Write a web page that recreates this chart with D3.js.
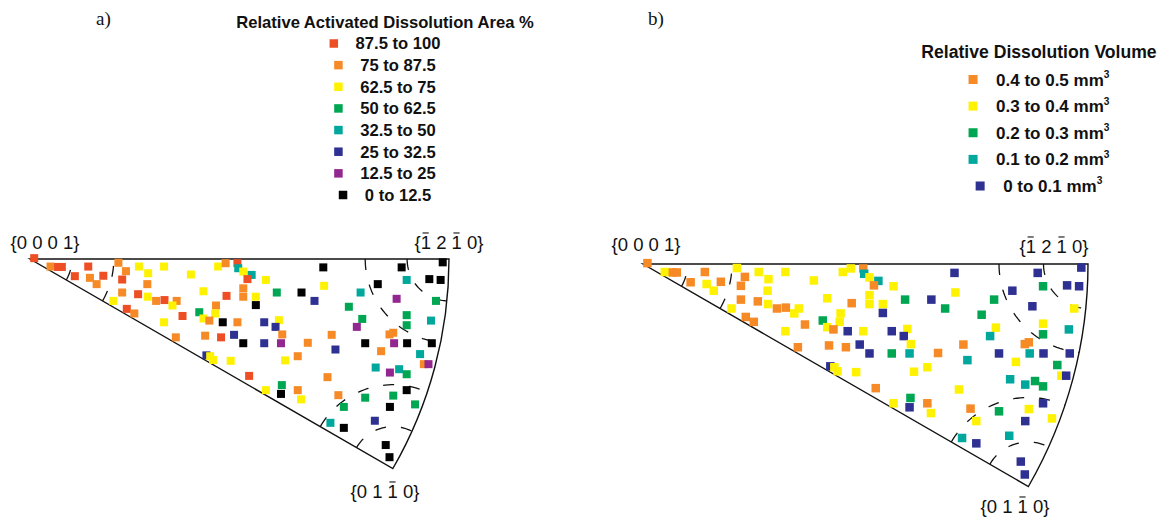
<!DOCTYPE html>
<html>
<head>
<meta charset="utf-8">
<script src="https://cdn.jsdelivr.net/npm/d3@7"></script>
<style>
  html, body { margin: 0; padding: 0; background: #ffffff; }
  svg { display: block; }
</style>
</head>
<body>
<script>
// Grain orientations in the {0001}-{01-10}-{-12-10} stereographic triangle,
// given as projected coordinates on the unit circle ({0001} at the origin,
// x toward {-12-10}, y toward {01-10}).
const grainX = [
  0.010, 0.049, 0.067, 0.076, 0.139, 0.211, 0.260, 0.320, 0.449, 0.467,
  0.107, 0.143, 0.175, 0.229, 0.282, 0.384, 0.159, 0.220, 0.280, 0.414,
  0.469, 0.220, 0.258, 0.281, 0.301, 0.321, 0.350, 0.340, 0.444, 0.199,
  0.442, 0.404, 0.414, 0.428, 0.460, 0.231, 0.249, 0.364, 0.320, 0.348,
  0.418, 0.456, 0.421, 0.430, 0.437, 0.479, 0.495, 0.497, 0.509, 0.529,
  0.519, 0.563, 0.700, 0.887, 0.985, 0.953, 0.980, 0.830, 0.899, 0.702,
  0.509, 0.509, 0.539, 0.539, 0.589, 0.648, 0.679, 0.789, 0.875, 0.969,
  0.761, 0.793, 0.899, 0.899, 0.957, 0.780, 0.495, 0.559, 0.594, 0.586,
  0.602, 0.487, 0.509, 0.559, 0.599, 0.663, 0.720, 0.858, 0.867, 0.869,
  0.900, 0.959, 0.800, 0.729, 0.838, 0.931, 0.940, 0.951, 0.609, 0.639,
  0.825, 0.881, 0.859, 0.899, 0.523, 0.710, 0.601, 0.599, 0.563, 0.639,
  0.647, 0.736, 0.800, 0.867, 0.899, 0.749, 0.859, 0.919, 0.823, 0.717,
  0.749, 0.849, 0.858
];
const grainY = [
  -0.002, 0.018, 0.019, 0.019, 0.018, 0.009, 0.018, 0.018, 0.018, 0.010,
  0.041, 0.045, 0.040, 0.029, 0.034, 0.037, 0.060, 0.049, 0.060, 0.077,
  0.088, 0.080, 0.084, 0.090, 0.100, 0.098, 0.100, 0.111, 0.111, 0.100,
  0.130, 0.127, 0.142, 0.147, 0.151, 0.119, 0.130, 0.136, 0.151, 0.187,
  0.183, 0.187, 0.230, 0.232, 0.241, 0.243, 0.010, 0.022, 0.030, 0.038,
  0.048, 0.050, 0.020, 0.020, 0.008, 0.048, 0.050, 0.060, 0.050, 0.064,
  0.070, 0.090, 0.090, 0.110, 0.080, 0.080, 0.100, 0.080, 0.095, 0.100,
  0.114, 0.143, 0.134, 0.158, 0.147, 0.162, 0.151, 0.151, 0.146, 0.162,
  0.180, 0.181, 0.201, 0.201, 0.201, 0.200, 0.181, 0.180, 0.176, 0.201,
  0.201, 0.201, 0.201, 0.216, 0.220, 0.227, 0.251, 0.251, 0.242, 0.232,
  0.259, 0.263, 0.271, 0.275, 0.279, 0.282, 0.301, 0.322, 0.313, 0.313,
  0.335, 0.325, 0.331, 0.326, 0.313, 0.353, 0.353, 0.347, 0.386, 0.391,
  0.403, 0.444, 0.473
];

// Relative activated dissolution area, class of each grain (index into areaLabels)
const areaLabels = ["87.5 to 100", "75 to 87.5", "62.5 to 75", "50 to 62.5",
                    "32.5 to 50", "25 to 32.5", "12.5 to 25", "0 to 12.5"];
const areaClass = [
  0, 1, 0, 0, 0, 1, 2, 2, 2, 1,
  0, 1, 0, 1, 2, 2, 1, 0, 1, 2,
  0, 1, 0, 2, 1, 0, 1, 2, 1, 2,
  2, 3, 2, 1, 7, 0, 1, 0, 2, 1,
  1, 0, 5, 2, 2, 2, 0, 4, 2, 4,
  0, 2, 7, 7, 7, 7, 7, 7, 4, 2,
  1, 1, 2, 7, 3, 7, 5, 4, 6, 3,
  3, 3, 3, 3, 4, 6, 1, 5, 2, 5,
  1, 5, 7, 5, 6, 1, 1, 1, 1, 6,
  7, 7, 7, 5, 1, 4, 1, 6, 2, 1,
  4, 4, 6, 3, 0, 1, 3, 7, 2, 1,
  2, 1, 3, 3, 7, 3, 7, 3, 5, 4,
  7, 7, 7
];

// Relative dissolution volume, class of each grain (index into volumeLabels)
const volumeLabels = ["0.4 to 0.5", "0.3 to 0.4", "0.2 to 0.3", "0.1 to 0.2", "0 to 0.1"];
const volumeClass = [
  0, 1, 0, 0, 0, 1, 1, 1, 1, 1,
  0, 1, 0, 0, 1, 1, 1, 0, 1, 1,
  0, 0, 0, 1, 0, 0, 1, 1, 1, 1,
  1, 2, 1, 0, 4, 0, 0, 0, 1, 0,
  0, 0, 4, 1, 1, 1, 0, 3, 1, 3,
  0, 1, 4, 4, 4, 4, 4, 4, 2, 1,
  1, 1, 1, 4, 2, 4, 2, 2, 4, 1,
  2, 1, 1, 2, 3, 3, 1, 4, 1, 4,
  1, 4, 4, 2, 3, 0, 0, 0, 0, 3,
  4, 4, 4, 3, 1, 2, 1, 4, 1, 1,
  3, 2, 3, 2, 0, 1, 2, 4, 1, 0,
  1, 0, 2, 1, 4, 1, 4, 1, 3, 3,
  4, 4, 4
];

const areaColors = ["#ee4e24", "#f68a26", "#fff200", "#00a651", "#00a79d", "#2e3192", "#92278f", "#000000"];
const volumeColors = ["#f68a26", "#fff200", "#00a651", "#00a79d", "#2e3192"];

// Pole labels of the triangle corners; "-" marks an overbarred index
const poleLabels = ["{0 0 0 1}", "{-1 2 -1 0}", "{0 1 -1 0}"];

const W = 1159, H = 518;
const svg = d3.select("body").append("svg").attr("width", W).attr("height", H);

const SANS = "'Liberation Sans', Arial, sans-serif";
const SERIF = "'Liberation Serif', 'Times New Roman', serif";

const grains = grainX.map((x, i) => ({ x, y: grainY[i], area: areaClass[i], volume: volumeClass[i] }));

function drawPoleLabel(g, label, cx, baseline, size) {
  // split label into characters, remembering which digits carry a bar
  const chars = [], barred = [];
  for (let i = 0; i < label.length; i++) {
    if (label[i] === "-") { barred.push(chars.length); continue; }
    chars.push(label[i]);
  }
  const t = g.append("text")
    .attr("x", cx).attr("y", baseline)
    .attr("text-anchor", "middle")
    .style("font-family", SANS).style("font-size", size + "px")
    .attr("fill", "#111")
    .text(chars.join(""));
  const node = t.node();
  barred.forEach(idx => {
    const e = node.getExtentOfChar(idx);
    const y = baseline - size * 0.716 - size * 0.15;
    g.append("line")
      .attr("x1", e.x + e.width * 0.18).attr("x2", e.x + e.width * 0.78)
      .attr("y1", y).attr("y2", y)
      .attr("stroke", "#111").attr("stroke-width", 1.1);
  });
}

function drawPanel(opts) {
  const { x, y, data, key, colors, size, labels } = opts;
  const g = svg.append("g");
  const R = x(1) - x(0);
  const P0 = [x(0), y(0)], P1 = [x(1), y(0)];
  const a30 = Math.PI / 6;
  const P2 = [x(Math.cos(a30)), y(Math.sin(a30))];

  // guide circles around each corner, clipped at the triangle edges
  const line = d3.line();
  const arcPts = (cu, cv, r, t0, t1) => d3.range(0, 41).map(k => {
    const t = (t0 + (t1 - t0) * k / 40) * Math.PI / 180;
    return [x(cu + r * Math.cos(t)), y(cv + r * Math.sin(t))];
  });
  const guides = [];
  [0.1, 0.2].forEach(r => {
    const phi = 2 * Math.asin(r / 2);
    guides.push(arcPts(0, 0, r, 30, 0));
    const e1 = Math.atan2(Math.sin(phi), Math.cos(phi) - 1) * 180 / Math.PI;
    guides.push(arcPts(1, 0, r, 180, e1));
    const q = [Math.cos(a30 - phi), Math.sin(a30 - phi)];
    let e2 = Math.atan2(q[1] - Math.sin(a30), q[0] - Math.cos(a30)) * 180 / Math.PI;
    if (e2 < 0) e2 += 360;
    guides.push(arcPts(Math.cos(a30), Math.sin(a30), r, 210, e2));
  });
  g.selectAll("path.guide").data(guides).join("path")
    .attr("class", "guide")
    .attr("d", line)
    .attr("fill", "none").attr("stroke", "#111")
    .attr("stroke-width", 1.3).attr("stroke-dasharray", "11,15");

  // triangle outline: two great-circle edges and the equator arc
  g.append("path")
    .attr("d", `M${P0[0]},${P0[1]} L${P1[0]},${P1[1]} A${R},${R} 0 0 1 ${P2[0]},${P2[1]} Z`)
    .attr("fill", "none").attr("stroke", "#111").attr("stroke-width", 1.4);

  // grains
  g.selectAll("rect.grain").data(data).join("rect")
    .attr("class", "grain")
    .attr("x", d => x(d.x) - size / 2)
    .attr("y", d => y(d.y) - size / 2)
    .attr("width", size).attr("height", size)
    .attr("fill", d => colors[d[key]]);

  labels.forEach((lb, i) => drawPoleLabel(g, poleLabels[i], lb[0], lb[1], 18.5));
}

function drawLegend(opts) {
  const { cx, titleY, title, labels, colors, rowY, fontSize, titleSize, square, gap, unit } = opts;
  const g = svg.append("g");
  g.append("text")
    .attr("x", cx).attr("y", titleY).attr("text-anchor", "middle")
    .style("font-family", SANS).style("font-weight", "bold").style("font-size", titleSize + "px")
    .attr("fill", "#111").text(title);
  labels.forEach((lab, i) => {
    const row = g.append("g");
    const yc = rowY(lab);
    row.append("rect")
      .attr("x", 0).attr("y", yc - square / 2)
      .attr("width", square).attr("height", square)
      .attr("fill", colors[i]);
    const t = row.append("text")
      .attr("x", square + gap).attr("y", yc + fontSize * 0.36)
      .style("font-family", SANS).style("font-weight", "bold").style("font-size", fontSize + "px")
      .attr("fill", "#111");
    t.append("tspan").text(lab + (unit ? " " + unit : ""));
    if (unit) {
      t.append("tspan").attr("dy", -fontSize * 0.45).style("font-size", (fontSize * 0.6) + "px").text("3");
    }
    const w = t.node().getComputedTextLength();
    row.attr("transform", `translate(${cx - (square + gap + w) / 2},0)`);
  });
}

// panel a
const xa = d3.scaleLinear().domain([0, 1]).range([30, 449]);
const ya = d3.scaleLinear().domain([0, 1]).range([259, 678]);
drawPanel({ x: xa, y: ya, data: grains, key: "area", colors: areaColors, size: 8,
  labels: [[45, 249], [449, 249], [385, 498]] });

// panel b
const xb = d3.scaleLinear().domain([0, 1]).range([643, 1088]);
const yb = d3.scaleLinear().domain([0, 1]).range([264, 709]);
drawPanel({ x: xb, y: yb, data: grains, key: "volume", colors: volumeColors, size: 8.5,
  labels: [[646, 251], [1054, 253], [1015, 513]] });

// legends
drawLegend({
  cx: 385, titleY: 28, title: "Relative Activated Dissolution Area %",
  labels: areaLabels, colors: areaColors, fontSize: 16.6, titleSize: 16.6, square: 8.5, gap: 17.5,
  rowY: d3.scalePoint().domain(areaLabels).range([43.5, 195])
});
drawLegend({
  cx: 1039, titleY: 57.5, title: "Relative Dissolution Volume",
  labels: volumeLabels, colors: volumeColors, fontSize: 17, titleSize: 17.6, square: 9, gap: 18.5, unit: "mm",
  rowY: d3.scalePoint().domain(volumeLabels).range([79.5, 186])
});

// panel tags
svg.append("text").attr("x", 96).attr("y", 25)
  .style("font-family", SERIF).style("font-size", "19px").attr("fill", "#111").text("a)");
svg.append("text").attr("x", 648).attr("y", 25)
  .style("font-family", SERIF).style("font-size", "19px").attr("fill", "#111").text("b)");
</script>
</body>
</html>
